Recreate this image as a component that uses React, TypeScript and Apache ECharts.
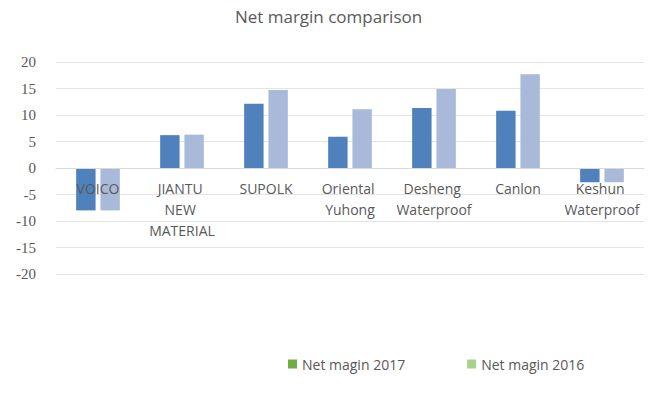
import React, { useEffect, useRef } from "react";
import * as echarts from "echarts";

const categories = [
  "VOICO",
  "JIANTU NEW MATERIAL",
  "SUPOLK",
  "Oriental Yuhong",
  "Desheng Waterproof",
  "Canlon",
  "Keshun Waterproof",
];
const netMargin2017 = [-8.0, 6.2, 12.1, 5.9, 11.3, 10.8, -2.7];
const netMargin2016 = [-8.0, 6.3, 14.7, 11.1, 14.9, 17.7, -2.7];
const seriesNames = ["Net magin 2017", "Net magin 2016"];
const yTicks = { min: -20, max: 20, interval: 5 };

export default function App() {
  const ref = useRef<HTMLDivElement>(null);
  useEffect(() => {
    document.body.style.margin = "0";
    if (!ref.current) return;
    const chart = echarts.init(ref.current, null, { renderer: "svg" });
    const gridTop = 62;
    const gridBottom = 133;
    const plotH = 407 - gridTop - gridBottom;
    const zeroOffset = -(plotH * (0 - yTicks.min)) / (yTicks.max - yTicks.min);
    chart.setOption({
      animation: false,
      backgroundColor: "#ffffff",
      title: {
        text: "Net margin comparison",
        left: "center",
        top: 3,
        textStyle: {
          fontFamily: "Open Sans",
          fontSize: 17,
          fontWeight: "normal",
          color: "#595959",
        },
      },
      grid: { left: 56, right: 13, top: gridTop, bottom: gridBottom, containLabel: false },
      legend: {
        left: 283,
        top: 352,
        itemWidth: 9,
        itemHeight: 9,
        itemGap: 62,
        icon: "rect",
        textStyle: { fontFamily: "Open Sans", fontSize: 14, color: "#595959" },
        data: [
          { name: seriesNames[0], itemStyle: { color: "#70ad47" } },
          { name: seriesNames[1], itemStyle: { color: "#a9d18e" } },
        ],
      },
      xAxis: {
        type: "category",
        data: categories,
        offset: zeroOffset,
        z: 10,
        axisLine: {
          show: true,
          onZero: false,
          lineStyle: { color: "#d9d9d9" },
        },
        axisTick: { show: false },
        axisLabel: {
          interval: 0,
          width: 76,
          overflow: "break",
          fontFamily: "Open Sans",
          fontSize: 14,
          color: "#595959",
          lineHeight: 21,
          margin: 10,
        },
      },
      yAxis: {
        type: "value",
        min: yTicks.min,
        max: yTicks.max,
        interval: yTicks.interval,
        axisLine: { show: false },
        axisTick: { show: false },
        splitLine: { lineStyle: { color: "#e4e4e4" } },
        axisLabel: {
          fontFamily: "Liberation Serif",
          fontSize: 15,
          color: "#595959",
          margin: 20,
        },
      },
      series: [
        {
          name: seriesNames[0],
          type: "bar",
          z: 2,
          data: netMargin2017,
          itemStyle: { color: "#4f81bd" },
          barGap: "25%",
          barCategoryGap: "48%",
        },
        {
          name: seriesNames[1],
          type: "bar",
          z: 2,
          data: netMargin2016,
          itemStyle: { color: "#a9b9d9" },
        },
      ],
    });
    return () => chart.dispose();
  }, []);
  return <div ref={ref} style={{ width: 657, height: 407 }} />;
}
